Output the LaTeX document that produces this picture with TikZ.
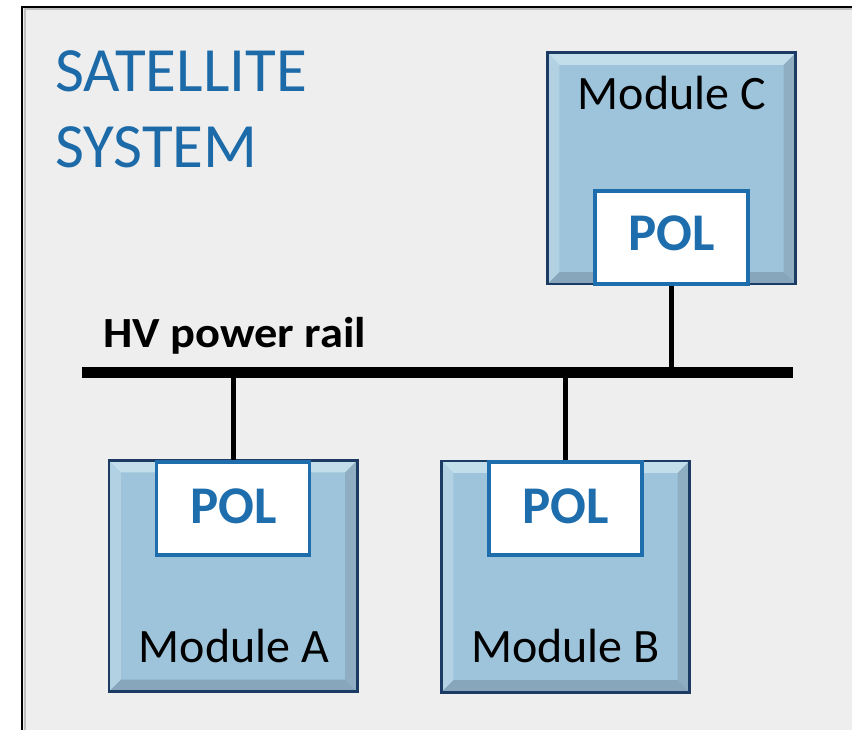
\documentclass[tikz,border=0pt]{standalone}
\usepackage{fontspec}
\setmainfont{Carlito}
\usetikzlibrary{calc}
\definecolor{bg}{HTML}{EEEEEE}
\definecolor{titleblue}{HTML}{1C6AA8}
\definecolor{polblue}{HTML}{1E6DAC}
\definecolor{modfill}{HTML}{9DC4DB}
\definecolor{modborder}{HTML}{1B3A64}
\definecolor{bevtop}{HTML}{C3DEEB}
\definecolor{bevleft}{HTML}{B2D2E4}
\definecolor{bevright}{HTML}{8FAEC2}
\definecolor{bevbot}{HTML}{87A6BB}
\tikzset{
  modbox/.style={rectangle, fill=modfill, minimum width=248pt, minimum height=231pt, inner sep=0pt},
  polbox/.style={rectangle, fill=white, draw=polblue, line width=3.4pt, minimum width=153pt, minimum height=93pt, inner sep=0pt},
  poltext/.style={inner sep=0pt, anchor=base, text=polblue, font=\fontsize{53}{60}\bfseries\selectfont},
  modlabel/.style={inner sep=0pt, anchor=base, font=\fontsize{48}{56}\selectfont},
  titletext/.style={inner sep=0pt, anchor=base west, text=titleblue, font=\fontsize{63}{76}\selectfont},
  wire/.style={line width=5pt},
  railstyle/.style={line width=11pt},
}
\newcommand{\mybevel}[1]{%
  \fill[bevtop] ($(#1.north west)$) -- ($(#1.north east)$) -- ($(#1.north east)+(-12,12)$) -- ($(#1.north west)+(12,12)$) -- cycle;
  \fill[bevleft] ($(#1.north west)$) -- ($(#1.north west)+(12,12)$) -- ($(#1.south west)+(12,-12)$) -- ($(#1.south west)$) -- cycle;
  \fill[bevright] ($(#1.north east)$) -- ($(#1.north east)+(-12,12)$) -- ($(#1.south east)+(-12,-12)$) -- ($(#1.south east)$) -- cycle;
  \fill[bevbot] ($(#1.south west)$) -- ($(#1.south west)+(12,-12)$) -- ($(#1.south east)+(-12,-12)$) -- ($(#1.south east)$) -- cycle;
  \draw[modborder, line width=2.6pt] (#1.north west) rectangle (#1.south east);
}
\begin{document}
\begin{tikzpicture}[x=1pt,y=-1pt]
\useasboundingbox (0,0) rectangle (852,730);
\fill[white] (0,0) rectangle (852,730);
\fill[bg] (22,7) rectangle (852,730);
\draw[black!25, line width=2pt] (24.5,730) -- (24.5,9.5) -- (852,9.5);
\draw[line width=2pt] (22,730) -- (22,7) -- (852,7);

% title
\node[titletext] (t1) at (55,92) {SATELLITE};
\node[titletext] (t2) at (55,168) {SYSTEM};

% modules
\node[modbox] (mA) at (233,576) {};
\node[modbox] (mB) at (565.5,576.5) {};
\node[modbox] (mC) at (671.5,168.5) {};
\mybevel{mA}
\mybevel{mB}
\mybevel{mC}

\node[modlabel] (lA) at (234,662) {Module A};
\node[modlabel] (lB) at (565.5,662) {Module B};
\node[modlabel] (lC) at (672,110) {Module C};

% POL boxes
\node[polbox] (pA) at (233,508.5) {};
\node[polbox] (pB) at (565.5,508.5) {};
\node[polbox] (pC) at (671.5,237.5) {};
\node[poltext] (tA) at (234,523) {POL};
\node[poltext] (tB) at (566,523) {POL};
\node[poltext] (tC) at (672,251) {POL};

% rail
\coordinate (railL) at (82,372.5);
\coordinate (railR) at (793,372.5);
\draw[railstyle] (railL) -- (railR);
\node[inner sep=0pt, anchor=base west, font=\fontsize{43}{50}\bfseries\selectfont] (hv) at (103,347) {\scalebox{1.08}[1]{HV power rail}};

% connectors
\draw[wire] (pA.north) -- (pA.north |- railL);
\draw[wire] (pB.north) -- (pB.north |- railL);
\draw[wire] (pC.south) -- (pC.south |- railL);
\end{tikzpicture}
\end{document}
